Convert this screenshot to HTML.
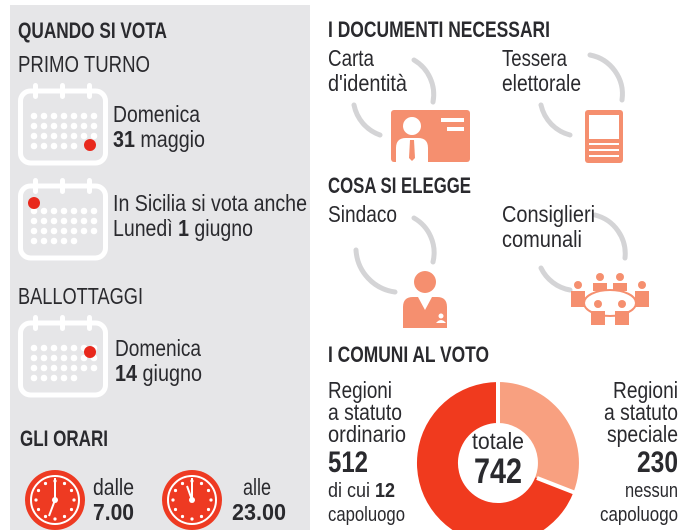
<!DOCTYPE html>
<html><head><meta charset="utf-8"><style>
html,body{margin:0;padding:0;background:#fff}
svg{display:block}
text{font-family:"Liberation Sans Narrow","Liberation Sans",sans-serif;fill:#2a2a2e}
.h{font-weight:bold;font-size:22px}
.t{font-size:23px}
.b{font-weight:bold}
</style></head><body>
<svg width="690" height="530" viewBox="0 0 690 530">
<rect x="10" y="5" width="300" height="525" fill="#e6e6e8"/>
<defs>
<g id="cal">
<rect x="2.5" y="8" width="85" height="72" rx="10" fill="none" stroke="#fff" stroke-width="5"/>
<rect x="15" y="0" width="5" height="16" rx="2.5" fill="#fff"/>
<rect x="42" y="0" width="5" height="16" rx="2.5" fill="#fff"/>
<rect x="69" y="0" width="5" height="16" rx="2.5" fill="#fff"/>
<g fill="#fff">
<circle cx="16" cy="33" r="3.3"/><circle cx="26" cy="33" r="3.3"/><circle cx="36" cy="33" r="3.3"/><circle cx="46" cy="33" r="3.3"/><circle cx="56" cy="33" r="3.3"/><circle cx="66" cy="33" r="3.3"/><circle cx="76" cy="33" r="3.3"/>
<circle cx="16" cy="43" r="3.3"/><circle cx="26" cy="43" r="3.3"/><circle cx="36" cy="43" r="3.3"/><circle cx="46" cy="43" r="3.3"/><circle cx="56" cy="43" r="3.3"/><circle cx="66" cy="43" r="3.3"/><circle cx="76" cy="43" r="3.3"/>
<circle cx="16" cy="53" r="3.3"/><circle cx="26" cy="53" r="3.3"/><circle cx="36" cy="53" r="3.3"/><circle cx="46" cy="53" r="3.3"/><circle cx="56" cy="53" r="3.3"/><circle cx="66" cy="53" r="3.3"/><circle cx="76" cy="53" r="3.3"/>
<circle cx="16" cy="63" r="3.3"/><circle cx="26" cy="63" r="3.3"/><circle cx="36" cy="63" r="3.3"/><circle cx="46" cy="63" r="3.3"/><circle cx="56" cy="63" r="3.3"/>
</g>
</g>
<g id="clk">
<circle r="30" fill="#ee3a22"/>
<circle r="24" fill="none" stroke="#fff" stroke-width="2"/>
<g fill="#fff"><circle cx="0" cy="-19" r="1.6"/><circle cx="0" cy="19" r="1.6"/><circle cx="19" cy="0" r="1.6"/><circle cx="-19" cy="0" r="1.6"/><circle cx="9.5" cy="-16.5" r="1.6"/><circle cx="-9.5" cy="-16.5" r="1.6"/><circle cx="9.5" cy="16.5" r="1.6"/><circle cx="-9.5" cy="16.5" r="1.6"/><circle cx="16.5" cy="9.5" r="1.6"/><circle cx="-16.5" cy="9.5" r="1.6"/><circle cx="16.5" cy="-9.5" r="1.6"/><circle cx="-16.5" cy="-9.5" r="1.6"/></g>
<circle r="3" fill="#fff"/>
</g>
</defs>

<text x="18" y="38" class="h" textLength="149" lengthAdjust="spacingAndGlyphs">QUANDO SI VOTA</text>
<text x="18" y="72" class="t" textLength="132" lengthAdjust="spacingAndGlyphs">PRIMO TURNO</text>
<use href="#cal" x="18" y="83"/>
<circle cx="90" cy="145" r="6" fill="#e8281c"/>
<text x="113" y="122" class="t" textLength="87" lengthAdjust="spacingAndGlyphs">Domenica</text>
<text x="113" y="147" class="t" textLength="92" lengthAdjust="spacingAndGlyphs"><tspan class="b">31</tspan> maggio</text>
<use href="#cal" x="18" y="178"/>
<circle cx="34" cy="203" r="6" fill="#e8281c"/>
<text x="113" y="211" class="t" textLength="194" lengthAdjust="spacingAndGlyphs">In Sicilia si vota anche</text>
<text x="113" y="236" class="t" textLength="140" lengthAdjust="spacingAndGlyphs">Lunedì <tspan class="b">1</tspan> giugno</text>
<text x="18" y="304" class="t" font-size="22" textLength="125" lengthAdjust="spacingAndGlyphs">BALLOTTAGGI</text>
<use href="#cal" x="18" y="315"/>
<circle cx="90" cy="352" r="6" fill="#e8281c"/>
<text x="115" y="356" class="t" textLength="86" lengthAdjust="spacingAndGlyphs">Domenica</text>
<text x="115" y="381" class="t" textLength="87" lengthAdjust="spacingAndGlyphs"><tspan class="b">14</tspan> giugno</text>
<text x="20" y="446" class="h" textLength="88" lengthAdjust="spacingAndGlyphs">GLI ORARI</text>
<use href="#clk" x="55" y="500"/>
<line x1="55" y1="500" x2="55" y2="478" stroke="#fff" stroke-width="2"/>
<line x1="55" y1="500" x2="49" y2="516" stroke="#fff" stroke-width="2"/>
<use href="#clk" x="192" y="500"/>
<line x1="192" y1="500" x2="192" y2="478" stroke="#fff" stroke-width="2"/>
<line x1="192" y1="500" x2="187" y2="486" stroke="#fff" stroke-width="2"/>
<text x="93" y="495" class="t" textLength="41" lengthAdjust="spacingAndGlyphs">dalle</text>
<text x="93" y="520" class="t b" textLength="41" lengthAdjust="spacingAndGlyphs">7.00</text>
<text x="243" y="495" class="t" textLength="28" lengthAdjust="spacingAndGlyphs">alle</text>
<text x="232" y="520" class="t b" textLength="54" lengthAdjust="spacingAndGlyphs">23.00</text>

<text x="328" y="37" class="h" textLength="222" lengthAdjust="spacingAndGlyphs">I DOCUMENTI NECESSARI</text>
<text x="328" y="66" class="t" textLength="46" lengthAdjust="spacingAndGlyphs">Carta</text>
<text x="328" y="91" class="t" textLength="79" lengthAdjust="spacingAndGlyphs">d'identità</text>
<text x="502" y="66" class="t" textLength="65" lengthAdjust="spacingAndGlyphs">Tessera</text>
<text x="502" y="91" class="t" textLength="79" lengthAdjust="spacingAndGlyphs">elettorale</text>
<g fill="none" stroke="#d4d4d6" stroke-width="5" stroke-linecap="round">
<path d="M414 60 A40 40 0 0 1 433 102"/>
<path d="M354 105 A40 40 0 0 0 380 135"/>
<path d="M590 55 A40 40 0 0 1 622 100"/>
<path d="M541 105 A40 40 0 0 0 570 135"/>
<path d="M414 218 A40 40 0 0 1 433 262"/>
<path d="M356 250 A45 45 0 0 0 395 292"/>
<path d="M595 215 A40 40 0 0 1 625 258"/>
<path d="M541 268 A40 40 0 0 0 570 290"/>
</g>
<rect x="391" y="110" width="79" height="52" rx="3" fill="#f58f6f"/>
<circle cx="412" cy="126" r="9" fill="#fff"/>
<path d="M396 162 V148 Q396 138 406 138 H418 Q428 138 428 148 V162 Z" fill="#fff"/>
<path d="M410 140 L414 140 L415 158 L412 161 L409 158 Z" fill="#f58f6f"/>
<rect x="441" y="118" width="23" height="4" fill="#fff"/>
<rect x="447" y="127" width="17" height="4" fill="#fff"/>
<rect x="585" y="110" width="38" height="53" rx="3" fill="#f58f6f"/>
<rect x="589" y="115" width="30" height="24" fill="#fff"/>
<rect x="589" y="143" width="30" height="2" fill="#fff"/><rect x="589" y="149" width="30" height="2" fill="#fff"/><rect x="589" y="155" width="30" height="2" fill="#fff"/>

<text x="328" y="193" class="h" textLength="143" lengthAdjust="spacingAndGlyphs">COSA SI ELEGGE</text>
<text x="328" y="222" class="t" textLength="69" lengthAdjust="spacingAndGlyphs">Sindaco</text>
<text x="502" y="222" class="t" textLength="93" lengthAdjust="spacingAndGlyphs">Consiglieri</text>
<text x="502" y="247" class="t" textLength="80" lengthAdjust="spacingAndGlyphs">comunali</text>
<circle cx="425" cy="282" r="11" fill="#f58f6f"/>
<path d="M403 328 V307 Q403 297 413 297 H437 Q447 297 447 307 V328 Z" fill="#f58f6f"/>
<path d="M418 297 L425 310 L432 297 Z" fill="#fff"/>
<circle cx="441" cy="316" r="2.5" fill="#fff"/><path d="M436 323 Q441 317 446 323 Z" fill="#fff"/>
<g fill="#f58f6f">
<circle cx="600" cy="277" r="4"/><circle cx="620" cy="277" r="4"/><circle cx="578" cy="285" r="4"/><circle cx="642" cy="285" r="4"/><circle cx="598" cy="304" r="4"/><circle cx="622" cy="304" r="4"/>
<rect x="593" y="283" width="14" height="8"/><rect x="613" y="283" width="14" height="8"/>
<rect x="571" y="291" width="14" height="16"/><rect x="635" y="291" width="14" height="16"/>
<rect x="591" y="311" width="14" height="14"/><rect x="615" y="311" width="14" height="14"/>
</g>
<ellipse cx="610" cy="303" rx="26" ry="13" fill="none" stroke="#f58f6f" stroke-width="2"/>

<text x="328" y="362" class="h" textLength="161" lengthAdjust="spacingAndGlyphs">I COMUNI AL VOTO</text>
<text x="328" y="398" class="t" textLength="64" lengthAdjust="spacingAndGlyphs">Regioni</text>
<text x="328" y="420" class="t" textLength="74" lengthAdjust="spacingAndGlyphs">a statuto</text>
<text x="328" y="442" class="t" textLength="78" lengthAdjust="spacingAndGlyphs">ordinario</text>
<text x="328" y="472" class="b" font-size="30" textLength="40" lengthAdjust="spacingAndGlyphs">512</text>
<text x="328" y="497" font-size="20" textLength="67" lengthAdjust="spacingAndGlyphs">di cui <tspan class="b">12</tspan></text>
<text x="328" y="521" font-size="20" textLength="77" lengthAdjust="spacingAndGlyphs">capoluogo</text>
<text x="613" y="398" class="t" textLength="65" lengthAdjust="spacingAndGlyphs">Regioni</text>
<text x="604" y="420" class="t" textLength="74" lengthAdjust="spacingAndGlyphs">a statuto</text>
<text x="607" y="442" class="t" textLength="71" lengthAdjust="spacingAndGlyphs">speciale</text>
<text x="637" y="472" class="b" font-size="30" textLength="41" lengthAdjust="spacingAndGlyphs">230</text>
<text x="625" y="497" font-size="20" textLength="53" lengthAdjust="spacingAndGlyphs">nessun</text>
<text x="600" y="521" font-size="20" textLength="78" lengthAdjust="spacingAndGlyphs">capoluogo</text>

<path d="M498 382 A81 81 0 1 0 573.6 492 L535.3 477.3 A40 40 0 1 1 498 423 Z" fill="#f03a1e"/>
<path d="M498 382 A81 81 0 0 1 573.6 492 L535.3 477.3 A40 40 0 0 0 498 423 Z" fill="#f8a080"/>
<line x1="498" y1="380" x2="498" y2="424" stroke="#fff" stroke-width="4"/>
<line x1="537" y1="478" x2="578" y2="494" stroke="#fff" stroke-width="4"/>
<text x="472" y="449" font-size="23" textLength="52" lengthAdjust="spacingAndGlyphs">totale</text>
<text x="474" y="483" class="b" font-size="35" textLength="48" lengthAdjust="spacingAndGlyphs">742</text>
</svg>
</body></html>
